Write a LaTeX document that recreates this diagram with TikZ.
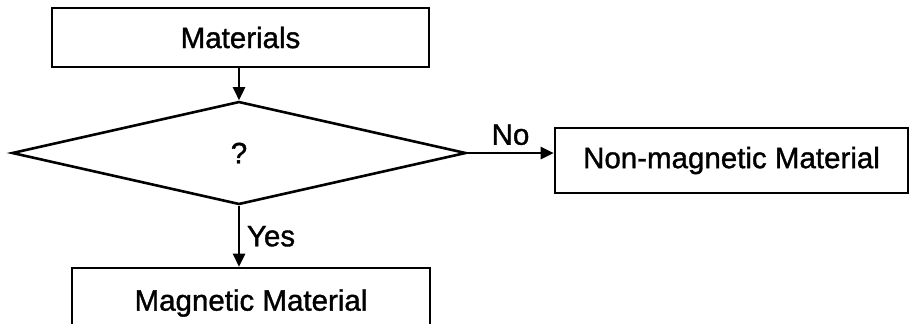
\documentclass[tikz,border=0pt]{standalone}
\usepackage{fontspec}
\setmainfont{Liberation Sans}[BoldFont=Liberation Sans, BoldFeatures={FakeBold=1.2}]
\usetikzlibrary{positioning,shapes.geometric,arrows.meta}
\tikzset{
  box/.style={draw, line width=1.3pt, inner sep=0pt},
  flow/.style={-{Triangle[length=6.5pt,width=6pt]}, line width=1.3pt},
}

\begin{document}
\begin{tikzpicture}[x=0.5pt,y=-0.5pt,font=\fontsize{14.75}{17}\selectfont\bfseries]
  \useasboundingbox (0,0) rectangle (909,323);
  % boxes
  \node[box, minimum width=188.5pt, minimum height=29.5pt] (materials) at (240.5,37.5) {Materials};
  \node[box, diamond, minimum width=227pt, minimum height=51.5pt] (test) at (239,153) {?};
  \node[box, minimum width=176.5pt, minimum height=32.5pt] (nonmag) at (731.5,160.5) {Non-magnetic Material};
  \node[box, minimum width=179pt, minimum height=35pt] (mag) at (251,303) {Magnetic Material};
  % arrows
  \draw[flow] (materials.south -| test.north) -- (test.north);
  \draw[flow] (test.east) -- (test.east -| nonmag.west) node[midway, above] {No};
  \draw[flow] (test.south) -- (test.south |- mag.north) node[midway, right] {Yes};
\end{tikzpicture}
\end{document}
